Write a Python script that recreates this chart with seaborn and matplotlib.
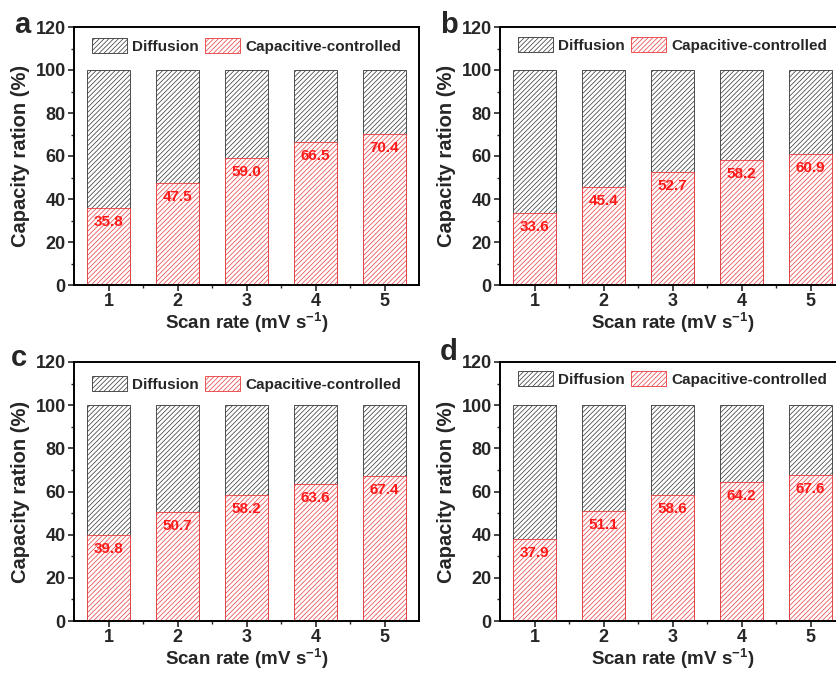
import matplotlib
matplotlib.use("Agg")
import matplotlib.pyplot as plt
import seaborn as sns
import pandas as pd
from matplotlib.patches import Patch

scan_rates = ["1", "2", "3", "4", "5"]
cap_a = [35.8, 47.5, 59.0, 66.5, 70.4]
cap_b = [33.6, 45.4, 52.7, 58.2, 60.9]
cap_c = [39.8, 50.7, 58.2, 63.6, 67.4]
cap_d = [37.9, 51.1, 58.6, 64.2, 67.6]
total = [100, 100, 100, 100, 100]
panel_letters = ["a", "b", "c", "d"]

sns.set_theme(style="ticks")
plt.rcParams["font.family"] = ["Liberation Sans", "DejaVu Sans"]
plt.rcParams["font.weight"] = "bold"
plt.rcParams["mathtext.fontset"] = "custom"
plt.rcParams["mathtext.rm"] = "Liberation Sans:bold"
plt.rcParams["mathtext.bf"] = "Liberation Sans:bold"
plt.rcParams["mathtext.default"] = "bf"
plt.rcParams["hatch.linewidth"] = 0.5

W, H = 836, 673
fig = plt.figure(figsize=(W / 100, H / 100), dpi=100)

# axes boxes in pixels: left, top(y of 120), right, bottom(y of 0)
boxes = [(74, 27, 419, 285), (500, 27, 845, 285), (74, 362, 419, 621), (500, 362, 845, 621)]
legend_y = [0.926, 0.93, 0.915, 0.934]
letter_pos = [(14, 33), (440, 33), (11, 366), (440, 360)]
datasets = [cap_a, cap_b, cap_c, cap_d]

diff_color = "#333333"
cap_color = "#e8393c"
hatch = "///////"

for k, (box, cap) in enumerate(zip(boxes, datasets)):
    l, t, r, b = box
    ax = fig.add_axes([l / W, (H - b) / H, (r - l) / W, (b - t) / H])
    df = pd.DataFrame({"scan": scan_rates, "total": total, "cap": cap})
    sns.barplot(data=df, x="scan", y="total", color="white", edgecolor=diff_color,
                hatch=hatch, linewidth=0.6, width=0.62, ax=ax, saturation=1)
    sns.barplot(data=df, x="scan", y="cap", color="white", edgecolor=cap_color,
                hatch=hatch, linewidth=0.6, width=0.62, ax=ax, saturation=1)
    for i, v in enumerate(cap):
        ax.text(i, v - 6.5, f"{v:.1f}", ha="center", va="center", color="#ff1a1a",
                fontsize=11, fontweight="bold")
    ax.set_xlim(-0.5, 4.5)
    ax.set_ylim(0, 120)
    ax.set_yticks(range(0, 121, 20))
    ax.set_yticks(range(10, 120, 20), minor=True)
    ax.set_xticks([0.5, 1.5, 2.5, 3.5], minor=True)
    ax.tick_params(axis="both", which="major", direction="out", length=4, width=1.2,
                   labelsize=13, pad=2)
    ax.tick_params(axis="both", which="minor", direction="out", length=2.5, width=1.0)
    for lab in ax.get_xticklabels() + ax.get_yticklabels():
        lab.set_fontweight("bold")
    for s in ax.spines.values():
        s.set_linewidth(1.4)
        s.set_color("black")
    ax.set_xlabel("Scan rate (mV s$^{-1}$)", fontsize=13.5, fontweight="bold", labelpad=0.5)
    ax.set_ylabel("Capacity ration (%)", fontsize=14.5, fontweight="bold", labelpad=4)
    handles = [Patch(facecolor="white", edgecolor=diff_color, hatch=hatch, linewidth=0.6, label="Diffusion"),
               Patch(facecolor="white", edgecolor=cap_color, hatch=hatch, linewidth=0.6, label="Capacitive-controlled")]
    ax.legend(handles=handles, loc="center", bbox_to_anchor=(0.5, legend_y[k]), ncol=2,
              frameon=False, handlelength=2.3, handleheight=1.15,
              columnspacing=0.4, handletextpad=0.35, prop={"weight": "bold", "size": 11})
    lx, ly = letter_pos[k]
    fig.text(lx / W, (H - ly) / H, panel_letters[k], fontsize=21, fontweight="bold",
             ha="left", va="baseline")

fig.savefig("out.png", dpi=100)
